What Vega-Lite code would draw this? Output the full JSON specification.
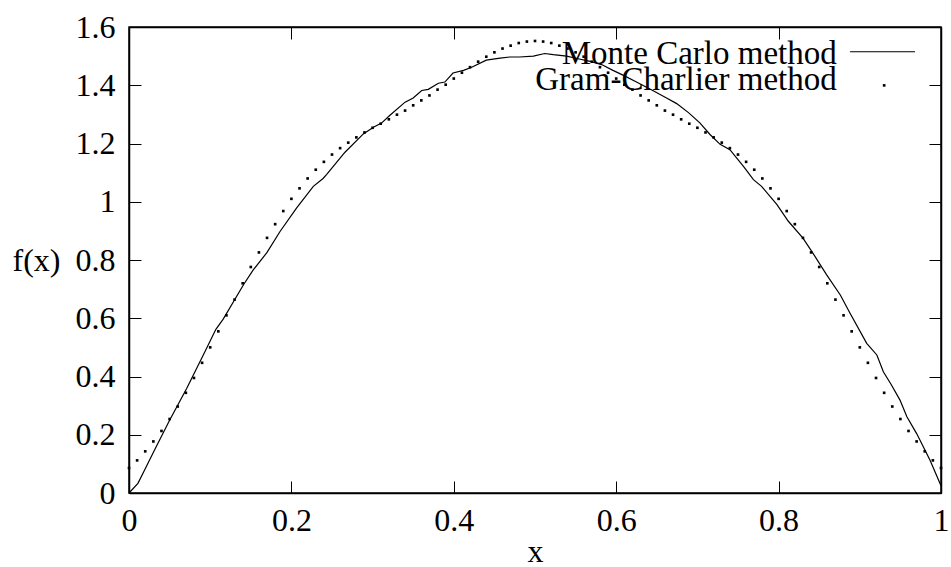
{
  "$schema": "https://vega.github.io/schema/vega-lite/v6.json",
  "width": 812,
  "height": 466,
  "autosize": "none",
  "padding": {"left": 129, "top": 27, "right": 10, "bottom": 74},
  "background": "white",
  "config": {
    "font": "Liberation Serif",
    "view": {"stroke": "black", "strokeWidth": 1.5},
    "axis": {
      "grid": false,
      "domainColor": "black",
      "domainWidth": 1.5,
      "tickColor": "black",
      "tickWidth": 1,
      "tickSize": -12,
      "labelFont": "Liberation Serif",
      "labelFontSize": 32,
      "labelColor": "black",
      "titleFont": "Liberation Serif",
      "titleFontSize": 32,
      "titleFontWeight": "normal",
      "titleColor": "black"
    }
  },
  "datasets": {
    "mc": [
      {"x": 0, "y": 0}, {"x": 0.011, "y": 0.033}, {"x": 0.02, "y": 0.083}, {"x": 0.031, "y": 0.145},
      {"x": 0.05, "y": 0.25}, {"x": 0.071, "y": 0.359}, {"x": 0.0915, "y": 0.474}, {"x": 0.107, "y": 0.562},
      {"x": 0.116, "y": 0.597}, {"x": 0.141, "y": 0.715}, {"x": 0.153, "y": 0.766}, {"x": 0.17, "y": 0.826},
      {"x": 0.186, "y": 0.898}, {"x": 0.2065, "y": 0.979}, {"x": 0.227, "y": 1.053}, {"x": 0.239, "y": 1.08},
      {"x": 0.2435, "y": 1.094}, {"x": 0.266, "y": 1.17}, {"x": 0.2886, "y": 1.233}, {"x": 0.301, "y": 1.256},
      {"x": 0.311, "y": 1.27}, {"x": 0.321, "y": 1.296}, {"x": 0.34, "y": 1.342}, {"x": 0.35, "y": 1.356},
      {"x": 0.3605, "y": 1.382}, {"x": 0.3686, "y": 1.386}, {"x": 0.381, "y": 1.407}, {"x": 0.389, "y": 1.411},
      {"x": 0.399, "y": 1.442}, {"x": 0.412, "y": 1.451}, {"x": 0.422, "y": 1.462}, {"x": 0.44, "y": 1.486},
      {"x": 0.457, "y": 1.493}, {"x": 0.469, "y": 1.497}, {"x": 0.481, "y": 1.497}, {"x": 0.498, "y": 1.5},
      {"x": 0.512, "y": 1.509}, {"x": 0.5225, "y": 1.505}, {"x": 0.539, "y": 1.5}, {"x": 0.553, "y": 1.491},
      {"x": 0.568, "y": 1.482}, {"x": 0.582, "y": 1.471}, {"x": 0.596, "y": 1.451}, {"x": 0.609, "y": 1.434},
      {"x": 0.625, "y": 1.411}, {"x": 0.645, "y": 1.382}, {"x": 0.662, "y": 1.356}, {"x": 0.6745, "y": 1.337},
      {"x": 0.689, "y": 1.306}, {"x": 0.703, "y": 1.271}, {"x": 0.7155, "y": 1.231}, {"x": 0.728, "y": 1.197},
      {"x": 0.74, "y": 1.179}, {"x": 0.7565, "y": 1.122}, {"x": 0.769, "y": 1.076}, {"x": 0.779, "y": 1.053},
      {"x": 0.798, "y": 0.99}, {"x": 0.812, "y": 0.933}, {"x": 0.83, "y": 0.875}, {"x": 0.841, "y": 0.829},
      {"x": 0.859, "y": 0.75}, {"x": 0.876, "y": 0.68}, {"x": 0.888, "y": 0.617}, {"x": 0.9085, "y": 0.514},
      {"x": 0.921, "y": 0.474}, {"x": 0.929, "y": 0.416}, {"x": 0.939, "y": 0.371}, {"x": 0.9495, "y": 0.319},
      {"x": 0.958, "y": 0.262}, {"x": 0.97, "y": 0.204}, {"x": 0.9865, "y": 0.1125}, {"x": 1.0, "y": 0.025}
    ],
    "gc": [
      {"x": 0.00, "y": 0.086}, {"x": 0.01, "y": 0.112}, {"x": 0.02, "y": 0.143}, {"x": 0.03, "y": 0.177},
      {"x": 0.04, "y": 0.213}, {"x": 0.05, "y": 0.254}, {"x": 0.06, "y": 0.297}, {"x": 0.07, "y": 0.344},
      {"x": 0.08, "y": 0.395}, {"x": 0.09, "y": 0.447}, {"x": 0.10, "y": 0.500}, {"x": 0.11, "y": 0.555},
      {"x": 0.12, "y": 0.610}, {"x": 0.13, "y": 0.664}, {"x": 0.14, "y": 0.720}, {"x": 0.15, "y": 0.776},
      {"x": 0.16, "y": 0.826}, {"x": 0.17, "y": 0.876}, {"x": 0.18, "y": 0.923}, {"x": 0.19, "y": 0.968},
      {"x": 0.20, "y": 1.010}, {"x": 0.21, "y": 1.046}, {"x": 0.22, "y": 1.080}, {"x": 0.23, "y": 1.110},
      {"x": 0.24, "y": 1.137}, {"x": 0.25, "y": 1.162}, {"x": 0.26, "y": 1.184}, {"x": 0.27, "y": 1.203},
      {"x": 0.28, "y": 1.221}, {"x": 0.29, "y": 1.238}, {"x": 0.30, "y": 1.254}, {"x": 0.31, "y": 1.268},
      {"x": 0.32, "y": 1.283}, {"x": 0.33, "y": 1.299}, {"x": 0.34, "y": 1.313}, {"x": 0.35, "y": 1.331},
      {"x": 0.36, "y": 1.348}, {"x": 0.37, "y": 1.365}, {"x": 0.38, "y": 1.385}, {"x": 0.39, "y": 1.402},
      {"x": 0.40, "y": 1.423}, {"x": 0.41, "y": 1.443}, {"x": 0.42, "y": 1.462}, {"x": 0.43, "y": 1.481},
      {"x": 0.44, "y": 1.498}, {"x": 0.45, "y": 1.513}, {"x": 0.46, "y": 1.526}, {"x": 0.47, "y": 1.536},
      {"x": 0.48, "y": 1.545}, {"x": 0.49, "y": 1.550}, {"x": 0.50, "y": 1.552}, {"x": 0.51, "y": 1.550},
      {"x": 0.52, "y": 1.545}, {"x": 0.53, "y": 1.536}, {"x": 0.54, "y": 1.526}, {"x": 0.55, "y": 1.513},
      {"x": 0.56, "y": 1.498}, {"x": 0.57, "y": 1.481}, {"x": 0.58, "y": 1.462}, {"x": 0.59, "y": 1.443},
      {"x": 0.60, "y": 1.423}, {"x": 0.61, "y": 1.402}, {"x": 0.62, "y": 1.385}, {"x": 0.63, "y": 1.365},
      {"x": 0.64, "y": 1.348}, {"x": 0.65, "y": 1.331}, {"x": 0.66, "y": 1.313}, {"x": 0.67, "y": 1.299},
      {"x": 0.68, "y": 1.283}, {"x": 0.69, "y": 1.268}, {"x": 0.70, "y": 1.254}, {"x": 0.71, "y": 1.238},
      {"x": 0.72, "y": 1.221}, {"x": 0.73, "y": 1.203}, {"x": 0.74, "y": 1.184}, {"x": 0.75, "y": 1.162},
      {"x": 0.76, "y": 1.137}, {"x": 0.77, "y": 1.110}, {"x": 0.78, "y": 1.080}, {"x": 0.79, "y": 1.046},
      {"x": 0.80, "y": 1.010}, {"x": 0.81, "y": 0.968}, {"x": 0.82, "y": 0.923}, {"x": 0.83, "y": 0.876},
      {"x": 0.84, "y": 0.826}, {"x": 0.85, "y": 0.776}, {"x": 0.86, "y": 0.720}, {"x": 0.87, "y": 0.664},
      {"x": 0.88, "y": 0.610}, {"x": 0.89, "y": 0.555}, {"x": 0.90, "y": 0.500}, {"x": 0.91, "y": 0.447},
      {"x": 0.92, "y": 0.395}, {"x": 0.93, "y": 0.344}, {"x": 0.94, "y": 0.297}, {"x": 0.95, "y": 0.254},
      {"x": 0.96, "y": 0.213}, {"x": 0.97, "y": 0.177}, {"x": 0.98, "y": 0.143}, {"x": 0.99, "y": 0.112},
      {"x": 1.00, "y": 0.086}
    ],
    "legend": [
      {"series": "Monte Carlo method"},
      {"series": "Gram-Charlier method"}
    ]
  },
  "layer": [
    {
      "data": {"name": "mc"},
      "mark": {"type": "line", "color": "black", "strokeWidth": 1.2},
      "encoding": {
        "x": {
          "field": "x", "type": "quantitative",
          "scale": {"domain": [0, 1], "nice": false, "zero": false},
          "axis": {
            "orient": "bottom", "title": "x",
            "values": [0, 0.2, 0.4, 0.6, 0.8, 1], "format": "~g",
            "labelPadding": 24, "labelFlush": false,
            "titleY": 68, "titleBaseline": "alphabetic"
          }
        },
        "y": {
          "field": "y", "type": "quantitative",
          "scale": {"domain": [0, 1.6], "nice": false, "zero": false},
          "axis": {
            "orient": "left", "title": "f(x)",
            "values": [0, 0.2, 0.4, 0.6, 0.8, 1, 1.2, 1.4, 1.6], "format": "~g",
            "labelPadding": 26,
            "titleAngle": 0, "titleAlign": "right", "titleBaseline": "middle",
            "titleX": -69, "titleY": 233
          }
        }
      }
    },
    {
      "data": {"name": "gc"},
      "mark": {"type": "point", "shape": "square", "filled": true, "size": 7, "color": "black", "opacity": 1},
      "encoding": {
        "x": {
          "field": "x", "type": "quantitative",
          "axis": {"orient": "top", "labels": false, "title": null, "values": [0, 0.2, 0.4, 0.6, 0.8, 1]}
        },
        "y": {
          "field": "y", "type": "quantitative",
          "axis": {"orient": "right", "labels": false, "title": null, "values": [0, 0.2, 0.4, 0.6, 0.8, 1, 1.2, 1.4, 1.6]}
        }
      }
    },
    {
      "data": {"name": "legend"},
      "transform": [{"filter": "datum.series === 'Monte Carlo method'"}],
      "layer": [
        {
          "mark": {"type": "text", "align": "right", "baseline": "alphabetic", "fontSize": 33, "font": "Liberation Serif", "color": "black"},
          "encoding": {
            "x": {"datum": 0.8716, "type": "quantitative", "axis": null},
            "y": {"datum": 1.472, "type": "quantitative", "axis": null},
            "text": {"field": "series"}
          }
        },
        {
          "mark": {"type": "rule", "color": "black", "strokeWidth": 1.2},
          "encoding": {
            "x": {"datum": 0.888, "type": "quantitative", "axis": null},
            "x2": {"datum": 0.968},
            "y": {"datum": 1.515, "type": "quantitative", "axis": null}
          }
        }
      ]
    },
    {
      "data": {"name": "legend"},
      "transform": [{"filter": "datum.series === 'Gram-Charlier method'"}],
      "layer": [
        {
          "mark": {"type": "text", "align": "right", "baseline": "alphabetic", "fontSize": 33, "font": "Liberation Serif", "color": "black"},
          "encoding": {
            "x": {"datum": 0.8716, "type": "quantitative", "axis": null},
            "y": {"datum": 1.383, "type": "quantitative", "axis": null},
            "text": {"field": "series"}
          }
        },
        {
          "mark": {"type": "point", "shape": "square", "filled": true, "size": 7, "color": "black", "opacity": 1},
          "encoding": {
            "x": {"datum": 0.930, "type": "quantitative", "axis": null},
            "y": {"datum": 1.3995, "type": "quantitative", "axis": null}
          }
        }
      ]
    }
  ],
  "resolve": {"axis": {"x": "independent", "y": "independent"}}
}
